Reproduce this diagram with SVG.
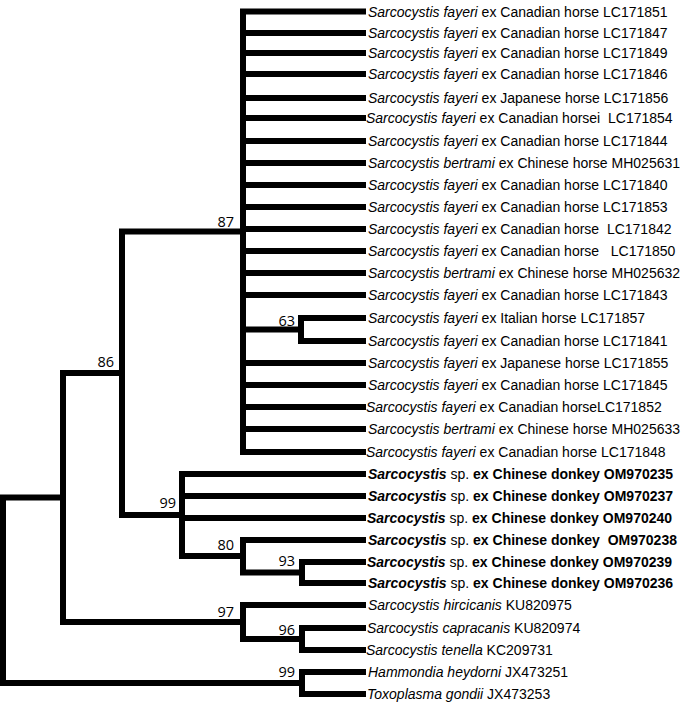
<svg xmlns="http://www.w3.org/2000/svg" width="685" height="704" viewBox="0 0 685 704">
<style>
.br{fill:none;stroke:#000;stroke-width:6;stroke-linecap:square;stroke-linejoin:miter}
.lf{font-family:"Liberation Sans",Arial,sans-serif;font-size:14px;fill:#000;white-space:pre}
.it{font-style:italic}
.b{font-weight:bold}
.bs{font-family:"Open Sans","Liberation Sans",sans-serif;font-size:14.5px;fill:#000;text-anchor:end}
</style>
<rect width="685" height="704" fill="#fff"/>
<g id="connectors">
<path class="br" d="M63 497.5 H3 V683 H302"/>
<path class="br" d="M122 373 H63 V622 H243"/>
<path class="br" d="M243 231.5 H122 V515 H182"/>
<path class="br" d="M363 11.5 H243 V452 H363"/>
<path class="br" d="M243 33 H363 M243 53 H363 M243 74 H363 M243 98 H363 M243 118 H363 M243 141 H363 M243 163 H363 M243 185 H363 M243 207 H363 M243 229 H363 M243 251 H363 M243 273 H363 M243 295 H363 M243 363 H363 M243 385 H363 M243 407 H363 M243 429 H363"/>
<path class="br" d="M243 329.5 H301"/>
<path class="br" d="M363 318 H301 V341 H363"/>
<path class="br" d="M363 474 H182 V556 H243"/>
<path class="br" d="M182 496 H363 M182 518 H363"/>
<path class="br" d="M363 540 H243 V572.5 H302"/>
<path class="br" d="M363 562 H302 V583 H363"/>
<path class="br" d="M363 605 H243 V639 H302"/>
<path class="br" d="M363 628 H302 V650 H363"/>
<path class="br" d="M363 672 H302 V694 H363"/>
</g>
<g id="node-87"><text class="bs" x="234" y="227">87</text></g>
<g id="node-86"><text class="bs" x="114" y="367">86</text></g>
<g id="node-63"><text class="bs" x="295" y="326">63</text></g>
<g id="node-99a"><text class="bs" x="176" y="508">99</text></g>
<g id="node-80"><text class="bs" x="234" y="550">80</text></g>
<g id="node-93"><text class="bs" x="295" y="566">93</text></g>
<g id="node-97"><text class="bs" x="234" y="617">97</text></g>
<g id="node-96"><text class="bs" x="295" y="635">96</text></g>
<g id="node-99b"><text class="bs" x="295" y="677">99</text></g>
<g id="leaf-LC171851"><text class="lf" x="368" y="16.5"><tspan class="it">Sarcocystis fayeri</tspan> ex Canadian horse LC171851</text></g>
<g id="leaf-LC171847"><text class="lf" x="368" y="38"><tspan class="it">Sarcocystis fayeri</tspan> ex Canadian horse LC171847</text></g>
<g id="leaf-LC171849"><text class="lf" x="368" y="58"><tspan class="it">Sarcocystis fayeri</tspan> ex Canadian horse LC171849</text></g>
<g id="leaf-LC171846"><text class="lf" x="368" y="79"><tspan class="it">Sarcocystis fayeri</tspan> ex Canadian horse LC171846</text></g>
<g id="leaf-LC171856"><text class="lf" x="368" y="103"><tspan class="it">Sarcocystis fayeri</tspan> ex Japanese horse LC171856</text></g>
<g id="leaf-LC171854"><text class="lf" x="366" y="123"><tspan class="it">Sarcocystis fayeri</tspan> ex Canadian horsei  LC171854</text></g>
<g id="leaf-LC171844"><text class="lf" x="368" y="146"><tspan class="it">Sarcocystis fayeri</tspan> ex Canadian horse LC171844</text></g>
<g id="leaf-MH025631"><text class="lf" x="368" y="168"><tspan class="it">Sarcocystis bertrami</tspan> ex Chinese horse MH025631</text></g>
<g id="leaf-LC171840"><text class="lf" x="368" y="190"><tspan class="it">Sarcocystis fayeri</tspan> ex Canadian horse LC171840</text></g>
<g id="leaf-LC171853"><text class="lf" x="368" y="212"><tspan class="it">Sarcocystis fayeri</tspan> ex Canadian horse LC171853</text></g>
<g id="leaf-LC171842"><text class="lf" x="368" y="234"><tspan class="it">Sarcocystis fayeri</tspan> ex Canadian horse  LC171842</text></g>
<g id="leaf-LC171850"><text class="lf" x="368" y="256"><tspan class="it">Sarcocystis fayeri</tspan> ex Canadian horse   LC171850</text></g>
<g id="leaf-MH025632"><text class="lf" x="368" y="278"><tspan class="it">Sarcocystis bertrami</tspan> ex Chinese horse MH025632</text></g>
<g id="leaf-LC171843"><text class="lf" x="368" y="300"><tspan class="it">Sarcocystis fayeri</tspan> ex Canadian horse LC171843</text></g>
<g id="leaf-LC171857"><text class="lf" x="368" y="323"><tspan class="it">Sarcocystis fayeri</tspan> ex Italian horse LC171857</text></g>
<g id="leaf-LC171841"><text class="lf" x="368" y="346"><tspan class="it">Sarcocystis fayeri</tspan> ex Canadian horse LC171841</text></g>
<g id="leaf-LC171855"><text class="lf" x="368" y="368"><tspan class="it">Sarcocystis fayeri</tspan> ex Japanese horse LC171855</text></g>
<g id="leaf-LC171845"><text class="lf" x="368" y="390"><tspan class="it">Sarcocystis fayeri</tspan> ex Canadian horse LC171845</text></g>
<g id="leaf-LC171852"><text class="lf" x="366" y="412"><tspan class="it">Sarcocystis fayeri</tspan> ex Canadian horseLC171852</text></g>
<g id="leaf-MH025633"><text class="lf" x="368" y="434"><tspan class="it">Sarcocystis bertrami</tspan> ex Chinese horse MH025633</text></g>
<g id="leaf-LC171848"><text class="lf" x="366" y="457"><tspan class="it">Sarcocystis fayeri</tspan> ex Canadian horse LC171848</text></g>
<g id="leaf-OM970235"><text class="lf" x="368" y="479"><tspan class="it b">Sarcocystis</tspan> sp. <tspan class="b">ex Chinese donkey OM970235</tspan></text></g>
<g id="leaf-OM970237"><text class="lf" x="368" y="501"><tspan class="it b">Sarcocystis</tspan> sp. <tspan class="b">ex Chinese donkey OM970237</tspan></text></g>
<g id="leaf-OM970240"><text class="lf" x="367" y="523"><tspan class="it b">Sarcocystis</tspan> sp. <tspan class="b">ex Chinese donkey OM970240</tspan></text></g>
<g id="leaf-OM970238"><text class="lf" x="368" y="545"><tspan class="it b">Sarcocystis</tspan> sp. <tspan class="b">ex Chinese donkey  OM970238</tspan></text></g>
<g id="leaf-OM970239"><text class="lf" x="367" y="567"><tspan class="it b">Sarcocystis</tspan> sp. <tspan class="b">ex Chinese donkey OM970239</tspan></text></g>
<g id="leaf-OM970236"><text class="lf" x="368" y="588"><tspan class="it b">Sarcocystis</tspan> sp. <tspan class="b">ex Chinese donkey OM970236</tspan></text></g>
<g id="leaf-KU820975"><text class="lf" x="368" y="610"><tspan class="it">Sarcocystis hircicanis</tspan> KU820975</text></g>
<g id="leaf-KU820974"><text class="lf" x="367" y="633"><tspan class="it">Sarcocystis capracanis</tspan> KU820974</text></g>
<g id="leaf-KC209731"><text class="lf" x="366" y="655"><tspan class="it">Sarcocystis tenella</tspan> KC209731</text></g>
<g id="leaf-JX473251"><text class="lf" x="368" y="677"><tspan class="it">Hammondia heydorni</tspan> JX473251</text></g>
<g id="leaf-JX473253"><text class="lf" x="367" y="699"><tspan class="it">Toxoplasma gondii</tspan> JX473253</text></g>
</svg>
